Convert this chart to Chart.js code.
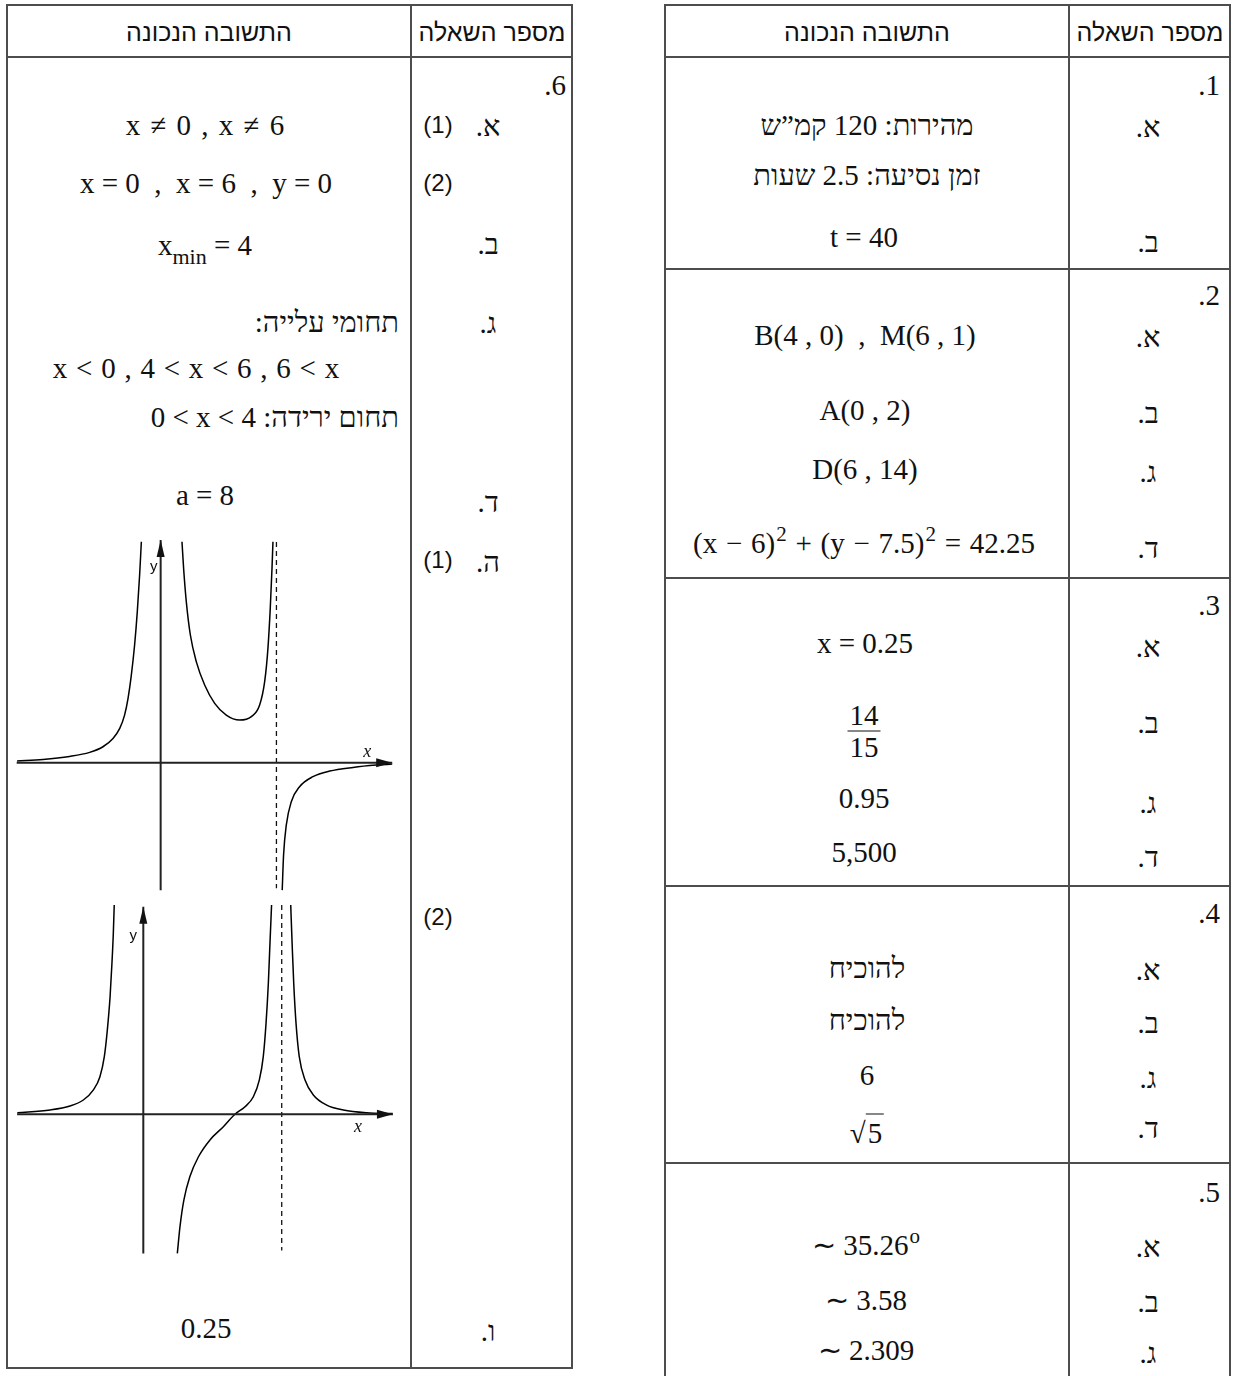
<!DOCTYPE html>
<html lang="he">
<head>
<meta charset="utf-8">
<script src="https://cdn.jsdelivr.net/npm/chart.js@4.4.1/dist/chart.umd.min.js"></script>
<style>
html, body { margin: 0; padding: 0; background: #fff; }
#page { position: relative; width: 1233px; height: 1376px; overflow: hidden;
        font-family: "Liberation Serif", "Times New Roman", serif; font-size: 29px; color: #111; }
.ln { position: absolute; background: #4d4d4d; }
.t { position: absolute; white-space: pre; line-height: 1; transform: translate(-50%, -50%); }
.r { transform: translate(-100%, -50%); }
.rtl { direction: rtl; }
.m { direction: ltr; unicode-bidi: isolate; }
.hd { font-family: "Liberation Sans", "DejaVu Sans", sans-serif; font-size: 25px; }
.pn { font-family: "Liberation Sans", "DejaVu Sans", sans-serif; font-size: 24px; }
.sub { font-size: 22px; position: relative; top: 9px; }
.sup { font-size: 21px; position: relative; top: -12px; padding-left: 1px; }
.frac { display: inline-flex; flex-direction: column; align-items: center; }
.frac .num { border-bottom: 1.5px solid #111; padding: 0 2px 1px; }
.frac .den { padding-top: 1px; }
.root { border-top: 1.5px solid #111; padding: 2px 2px 0 2px; }
canvas { position: absolute; }
</style>
</head>
<body>
<div id="page">
  <!-- left table (question 6) -->
  <div class="ln" style="left:6px;top:4px;width:567px;height:2px"></div>
  <div class="ln" style="left:6px;top:56px;width:567px;height:2px"></div>
  <div class="ln" style="left:6px;top:1367px;width:567px;height:2px"></div>
  <div class="ln" style="left:6px;top:4px;width:2px;height:1365px"></div>
  <div class="ln" style="left:410px;top:4px;width:2px;height:1365px"></div>
  <div class="ln" style="left:571px;top:4px;width:2px;height:1365px"></div>

  <!-- right table (questions 1-5) -->
  <div class="ln" style="left:664px;top:4px;width:567px;height:2px"></div>
  <div class="ln" style="left:664px;top:56px;width:567px;height:2px"></div>
  <div class="ln" style="left:664px;top:268px;width:567px;height:2px"></div>
  <div class="ln" style="left:664px;top:577px;width:567px;height:2px"></div>
  <div class="ln" style="left:664px;top:885px;width:567px;height:2px"></div>
  <div class="ln" style="left:664px;top:1162px;width:567px;height:2px"></div>
  <div class="ln" style="left:664px;top:4px;width:2px;height:1372px"></div>
  <div class="ln" style="left:1068px;top:4px;width:2px;height:1372px"></div>
  <div class="ln" style="left:1229px;top:4px;width:2px;height:1372px"></div>

  <!-- headers -->
  <div class="t hd rtl" style="left:209px;top:32px">התשובה הנכונה</div>
  <div class="t hd rtl" style="left:492px;top:32px">מספר השאלה</div>
  <div class="t hd rtl" style="left:867px;top:32px">התשובה הנכונה</div>
  <div class="t hd rtl" style="left:1150px;top:32px">מספר השאלה</div>

  <!-- question 6 -->
  <div class="t r rtl" style="left:566px;top:85px">6.</div>
  <div class="t rtl" style="left:488px;top:126px">א.</div>
  <div class="t pn" style="left:438px;top:125px">(1)</div>
  <div class="t" style="left:205px;top:125px;word-spacing:3px">x ≠ 0 , x ≠ 6</div>
  <div class="t pn" style="left:438px;top:183px">(2)</div>
  <div class="t" style="left:206px;top:183px">x = 0  ,  x = 6  ,  y = 0</div>
  <div class="t rtl" style="left:488px;top:244px">ב.</div>
  <div class="t" style="left:205px;top:245px">x<span class="sub">min</span> = 4</div>
  <div class="t rtl" style="left:488px;top:323px">ג.</div>
  <div class="t r rtl" style="left:399px;top:322px">תחומי עלייה:</div>
  <div class="t" style="left:196px;top:368px;word-spacing:1.5px">x &lt; 0 , 4 &lt; x &lt; 6 , 6 &lt; x</div>
  <div class="t r rtl" style="left:399px;top:417px">תחום ירידה: <span class="m">0 &lt; x &lt; 4</span></div>
  <div class="t rtl" style="left:488px;top:502px">ד.</div>
  <div class="t" style="left:205px;top:495px">a = 8</div>
  <div class="t rtl" style="left:488px;top:562px">ה.</div>
  <div class="t pn" style="left:438px;top:560px">(1)</div>
  <div class="t pn" style="left:438px;top:917px">(2)</div>
  <div class="t rtl" style="left:488px;top:1331px">ו.</div>
  <div class="t" style="left:206px;top:1328px">0.25</div>

  <!-- question 1 -->
  <div class="t r rtl" style="left:1220px;top:85px">1.</div>
  <div class="t rtl" style="left:1148px;top:127px">א.</div>
  <div class="t rtl" style="left:867px;top:125px">מהירות: <span class="m">120</span> קמ”ש</div>
  <div class="t rtl" style="left:867px;top:175px">זמן נסיעה: <span class="m">2.5</span> שעות</div>
  <div class="t rtl" style="left:1148px;top:242px">ב.</div>
  <div class="t" style="left:864px;top:237px">t = 40</div>

  <!-- question 2 -->
  <div class="t r rtl" style="left:1220px;top:295px">2.</div>
  <div class="t rtl" style="left:1148px;top:337px">א.</div>
  <div class="t" style="left:865px;top:335px">B(4 , 0)  ,  M(6 , 1)</div>
  <div class="t rtl" style="left:1148px;top:413px">ב.</div>
  <div class="t" style="left:865px;top:410px">A(0 , 2)</div>
  <div class="t rtl" style="left:1148px;top:472px">ג.</div>
  <div class="t" style="left:865px;top:469px">D(6 , 14)</div>
  <div class="t rtl" style="left:1148px;top:548px">ד.</div>
  <div class="t" style="left:864px;top:543px;word-spacing:1.5px">(x − 6)<span class="sup">2</span> + (y − 7.5)<span class="sup">2</span> = 42.25</div>

  <!-- question 3 -->
  <div class="t r rtl" style="left:1220px;top:605px">3.</div>
  <div class="t rtl" style="left:1148px;top:647px">א.</div>
  <div class="t" style="left:865px;top:643px">x = 0.25</div>
  <div class="t rtl" style="left:1148px;top:723px">ב.</div>
  <div class="t" style="left:864px;top:731px"><span class="frac"><span class="num">14</span><span class="den">15</span></span></div>
  <div class="t rtl" style="left:1148px;top:803px">ג.</div>
  <div class="t" style="left:864px;top:798px">0.95</div>
  <div class="t rtl" style="left:1148px;top:857px">ד.</div>
  <div class="t" style="left:864px;top:852px">5,500</div>

  <!-- question 4 -->
  <div class="t r rtl" style="left:1220px;top:913px">4.</div>
  <div class="t rtl" style="left:1148px;top:970px">א.</div>
  <div class="t rtl" style="left:867px;top:968px">להוכיח</div>
  <div class="t rtl" style="left:1148px;top:1023px">ב.</div>
  <div class="t rtl" style="left:867px;top:1020px">להוכיח</div>
  <div class="t rtl" style="left:1148px;top:1078px">ג.</div>
  <div class="t" style="left:867px;top:1075px">6</div>
  <div class="t rtl" style="left:1148px;top:1128px">ד.</div>
  <div class="t" style="left:867px;top:1133px">√<span class="root">5</span></div>

  <!-- question 5 -->
  <div class="t r rtl" style="left:1220px;top:1192px">5.</div>
  <div class="t rtl" style="left:1148px;top:1247px">א.</div>
  <div class="t" style="left:866px;top:1245px">∼ 35.26<span class="sup">o</span></div>
  <div class="t rtl" style="left:1148px;top:1302px">ב.</div>
  <div class="t" style="left:866px;top:1300px">∼ 3.58</div>
  <div class="t rtl" style="left:1148px;top:1353px">ג.</div>
  <div class="t" style="left:866px;top:1350px">∼ 2.309</div>

  <canvas id="graph1" width="384" height="358" style="left:14px;top:536px;width:384px;height:358px"></canvas>
  <canvas id="graph2" width="384" height="358" style="left:14px;top:900px;width:384px;height:358px"></canvas>
</div>

<script>
// גרף ה(1): הפונקציה - נקודות שנקראו מהציור
const g1LeftX = [-7.44, -6.10, -4.72, -3.68, -2.99, -2.47, -2.12, -1.87, -1.69, -1.52, -1.35, -1.21, -1.09, -1.00];
const g1LeftY = [0.09, 0.17, 0.33, 0.54, 0.83, 1.26, 1.78, 2.47, 3.34, 4.54, 6.10, 7.83, 9.73, 11.45];
const g1MidX = [1.105, 1.19, 1.33, 1.54, 1.85, 2.28, 2.80, 3.40, 4.09, 4.70, 5.13, 5.39, 5.56, 5.68, 5.77, 5.82];
const g1MidY = [11.45, 10.07, 8.34, 6.62, 5.23, 4.03, 3.08, 2.47, 2.21, 2.39, 2.99, 4.20, 5.93, 8.00, 10.07, 11.45];
const g1RightX = [6.30, 6.37, 6.51, 6.77, 7.20, 7.89, 8.76, 9.97, 11.17, 12.0];
const g1RightY = [-6.60, -4.78, -3.23, -2.02, -1.24, -0.72, -0.43, -0.24, -0.12, -0.07];

// גרף ה(2): הנגזרת
const g2LeftX = [-5.46, -4.04, -3.18, -2.60, -2.17, -1.88, -1.69, -1.56, -1.44, -1.36, -1.30, -1.26];
const g2LeftY = [0.07, 0.19, 0.36, 0.62, 1.05, 1.63, 2.50, 3.65, 5.10, 6.54, 7.84, 9.07];
const g2MidX = [1.475, 1.59, 1.76, 2.02, 2.39, 2.89, 3.47, 3.97, 4.41, 4.77, 5.03, 5.20, 5.32, 5.42, 5.49, 5.56];
const g2MidY = [-6.03, -4.87, -3.71, -2.70, -1.84, -1.11, -0.54, 0, 0.33, 0.76, 1.49, 2.50, 3.94, 5.68, 7.41, 9.07];
const g2RightX = [6.39, 6.45, 6.52, 6.62, 6.76, 7.01, 7.37, 7.95, 8.67, 9.68, 10.81];
const g2RightY = [9.07, 7.41, 5.68, 3.94, 2.50, 1.49, 0.84, 0.40, 0.19, 0.07, 0.03];

// אסימפטוטה וצירים
const asymX = 6;
const g1AsymY = [11.44, -6.5];
const g1AxisX = [-7.46, 12.0];
const g1AxisY = [-6.6, 11.54];
const g2AsymY = [9.07, -5.9];
const g2AxisX = [-5.47, 10.82];
const g2AxisY = [-6.03, 9.0];

function pts(xs, ys) {
    return xs.map((x, i) => ({ x: x, y: ys[i] }));
}

function curve(xs, ys) {
    return {
        data: pts(xs, ys),
        showLine: true,
        borderColor: '#000',
        borderWidth: 1.5,
        pointRadius: 0,
        cubicInterpolationMode: 'monotone',
        fill: false
    };
}

function segment(xs, ys, color, width, dash) {
    return {
        data: pts(xs, ys),
        showLine: true,
        borderColor: color,
        borderWidth: width,
        borderDash: dash || [],
        pointRadius: 0,
        tension: 0,
        fill: false
    };
}

// חיצים בקצה הצירים ותוויות x , y
const axesArrows = {
    id: 'axesArrows',
    afterDatasetsDraw(chart, args, o) {
        const ctx = chart.ctx;
        const sx = chart.scales.x, sy = chart.scales.y;
        const x0 = sx.getPixelForValue(0), y0 = sy.getPixelForValue(0);
        const xt = sx.getPixelForValue(o.xEnd), yt = sy.getPixelForValue(o.yEnd);
        ctx.save();
        ctx.fillStyle = '#111';
        ctx.beginPath();
        ctx.moveTo(xt, y0);
        ctx.lineTo(xt - 16, y0 - 4.5);
        ctx.lineTo(xt - 16, y0 + 4.5);
        ctx.closePath();
        ctx.fill();
        ctx.beginPath();
        ctx.moveTo(x0, yt);
        ctx.lineTo(x0 - 4, yt + 17);
        ctx.lineTo(x0 + 4, yt + 17);
        ctx.closePath();
        ctx.fill();
        ctx.textAlign = 'center';
        ctx.textBaseline = 'middle';
        ctx.font = '15px "Liberation Sans"';
        ctx.fillText('y', x0 + o.yLab[0], yt + o.yLab[1]);
        ctx.font = 'italic 18px "Liberation Serif"';
        ctx.fillText('x', xt + o.xLab[0], y0 + o.xLab[1]);
        ctx.restore();
    }
};

function makeGraph(id, branches, asymY, axisX, axisY, range, labels) {
    const datasets = [
        segment(axisX, [0, 0], '#222', 2),
        segment([0, 0], axisY, '#222', 2),
        segment([asymX, asymX], asymY, '#111', 1.3, [5, 4])
    ].concat(branches.map(b => curve(b[0], b[1])));

    return new Chart(document.getElementById(id), {
        type: 'scatter',
        data: { datasets: datasets },
        options: {
            responsive: false,
            animation: false,
            events: [],
            layout: { padding: 0 },
            plugins: {
                legend: { display: false },
                tooltip: { enabled: false },
                axesArrows: {
                    xEnd: axisX[1],
                    yEnd: axisY[1],
                    yLab: labels.y,
                    xLab: labels.x
                }
            },
            scales: {
                x: { type: 'linear', min: range[0], max: range[1], display: false },
                y: { type: 'linear', min: range[2], max: range[3], display: false }
            }
        },
        plugins: [axesArrows]
    });
}

makeGraph('graph1',
    [[g1LeftX, g1LeftY], [g1MidX, g1MidY], [g1RightX, g1RightY]],
    g1AsymY, g1AxisX, g1AxisY,
    [-7.6, 12.3, -6.8, 11.75],
    { y: [-7, 27], x: [-25, -10] });

makeGraph('graph2',
    [[g2LeftX, g2LeftY], [g2MidX, g2MidY], [g2RightX, g2RightY]],
    g2AsymY, g2AxisX, g2AxisY,
    [-5.605, 11.04, -6.229, 9.289],
    { y: [-10, 29], x: [-35, 13] });
</script>
</body>
</html>
